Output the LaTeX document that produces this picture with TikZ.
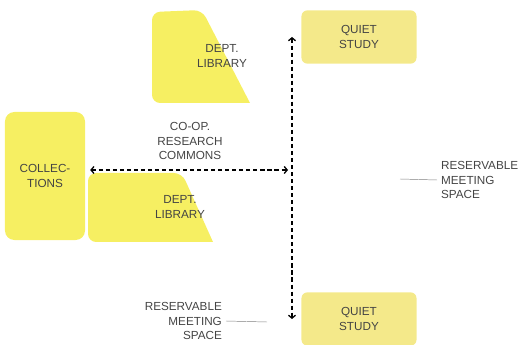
\documentclass[tikz,border=0pt]{standalone}
\usepackage{fontspec}
\setmainfont{Liberation Sans}
\usetikzlibrary{arrows.meta}
\definecolor{hilite}{HTML}{F6EF62}
\definecolor{studycol}{HTML}{F4E98A}
\definecolor{labelgray}{HTML}{444444}
\tikzset{
  barb/.tip={Straight Barb[length=2.5pt,width=6pt]},
  flow/.style={line width=1.1pt, dash pattern=on 3.5pt off 2.5pt, barb-barb},
  tick/.style={draw=gray, thin}
}
\begin{document}
\begin{tikzpicture}[x=0.03cm,y=-0.03cm,every node/.style={font=\fontsize{10}{12.5}\selectfont, text=labelgray, align=center}]
\useasboundingbox (0,0) rectangle (521,345);
% yellow floor areas
\fill[hilite] (250,103) [rounded corners=7pt] -- (152,103) -- (152,12) -- (202,10) [sharp corners] -- (250,103) -- cycle;
\fill[hilite] (213,242) [rounded corners=7pt] -- (88,242) -- (88,173) -- (182,173) [sharp corners] -- (213,242) -- cycle;
\node[fill=hilite,rounded corners=8pt,minimum width=2.4cm,minimum height=3.84cm] (coll) at (45,176) {COLLEC-\\TIONS};
\foreach \n/\y in {qs1/37,qs2/319}
  \node[fill=studycol,rounded corners=5pt,minimum width=3.45cm,minimum height=1.6cm] (\n) at (359,\y) {QUIET\\STUDY};
\node (lib1) at (222,56) {DEPT.\\LIBRARY};
\node (lib2) at (180,207) {DEPT.\\LIBRARY};
\node (commons) at (190,141) {CO-OP.\\RESEARCH\\COMMONS};
\node[anchor=west,align=left] (meet1) at (437,180) {RESERVABLE\\MEETING\\SPACE};
\node[anchor=east,align=right] (meet2) at (226,321) {RESERVABLE\\MEETING\\SPACE};
% circulation
\coordinate (top) at (292,37);
\coordinate (bot) at (292,319);
\coordinate (hub) at (288,170);
\draw[flow] (top) -- (bot);
\draw[flow] (coll.east|-hub) ++(5,0) -- (hub);
\coordinate (m1) at (400,179);
\coordinate (m2) at (267,322);
\draw[tick] (m1) -- (meet1.west);
\draw[tick] (m2) -- (meet2.east);
\end{tikzpicture}
\end{document}
